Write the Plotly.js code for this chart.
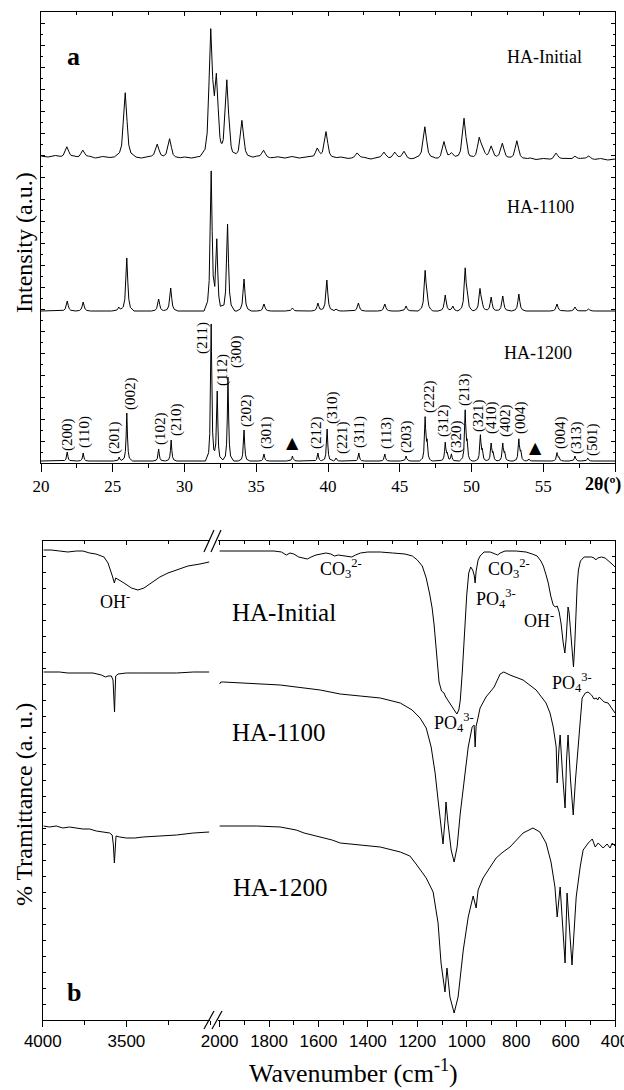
<!DOCTYPE html>
<html><head><meta charset="utf-8">
<script src="https://cdn.plot.ly/plotly-3.0.1.min.js"></script>
<style>html,body{margin:0;padding:0;background:#fff}#chart{width:624px;height:1090px}</style>
</head><body><div id="chart"></div>
<script>
// ---------- DATA: XRD (panel a) ----------
// peaks: [2theta (deg), height above own baseline (a.u.)]
const xrdInitialPeaks = [[21.8,10],[22.91,7],[25.87,64],[28.1,13],[28.96,19],[31.83,123],[32.22,75],[32.95,77],[34.0,37],[35.51,7],[39.25,9],[39.86,26],[42.03,5],[43.9,6],[44.65,6],[45.3,7],[46.75,31],[48.08,17],[48.6,5],[49.48,40],[50.54,20],[50.8,7],[51.37,12],[52.15,15],[53.16,18],[55.89,6],[57.2,3],[58.17,3]];
const xrdInitialBaseline = [[20,2],[20.5,1],[21,2.5],[21.4,1],[22.3,1.5],[22.6,0.5],[23.4,1.5],[23.8,0],[24.3,1.5],[24.8,0.5],[25.3,1.5],[26.6,1],[27,0],[27.5,1.5],[28.5,0.5],[29.6,0],[30,1],[30.5,0],[31,1.5],[34.6,0.5],[35,1.5],[36,0],[36.5,1.2],[37,0],[37.5,1.5],[38,0],[38.5,1],[39,0.5],[40.4,0],[40.9,1],[41.4,-0.5],[42.5,0.5],[43,-1],[43.4,0.5],[44.2,-0.5],[45,0],[45.8,-1],[46.2,0.5],[47.3,0],[47.7,-1],[48.9,0],[50,-0.5],[51.8,0],[53.7,-1],[54.1,0],[54.5,-1.5],[55,-0.5],[55.5,-1.5],[56.5,-0.5],[57,-1.5],[57.7,-0.5],[58.6,-1.5],[59,-0.5],[59.5,-2],[60,-1]];
const xrd1100Peaks = [[21.83,10],[22.94,9],[25.42,4],[25.98,53],[28.2,12],[29.04,23],[31.86,138],[32.25,68],[33.0,87],[34.15,32],[35.54,7],[37.52,3],[39.3,8],[39.92,31],[40.56,2],[42.12,8],[43.96,7],[45.44,5],[46.77,38],[46.9,10],[48.17,16],[48.7,5],[49.56,41],[49.7,10],[50.59,21],[50.72,6],[51.37,14],[52.18,15],[53.3,17],[55.96,7],[57.21,4],[58.16,2]];
const xrd1100Baseline = [[20,0],[60,0]];
const xrd1200Peaks = [[21.83,9],[22.94,8],[25.45,4],[25.98,48],[28.2,12],[29.07,21],[31.86,137],[32.28,70],[33.03,84],[34.15,31],[35.54,7],[37.52,5],[39.3,8],[39.94,32],[40.56,3],[42.15,8],[43.96,7],[45.44,5],[46.77,42],[46.9,16],[48.17,18],[48.3,6],[48.6,7],[49.56,49],[49.69,15],[50.62,25],[50.75,9],[51.37,17],[51.5,7],[52.18,17],[52.31,7],[53.3,21],[53.43,8],[54.0,2],[55.96,8],[56.09,3],[57.21,5],[58.1,3]];
const xrd1200Baseline = [[20,0],[60,0]];
const xrdTickVals = [20,25,30,35,40,45,50,55,60];
const xrdTickText = ['20','25','30','35','40','45','50','55',''];

// Miller indices for HA-1200
const hklText = ['(200)','(110)','(201)','(002)','(102)','(210)','(211)','(112)','(300)','(202)','(301)','▲','(212)','(310)','(221)','(311)','(113)','(203)','(222)','(312)','(320)','(213)','(321)','(410)','(402)','(004)','▲','(004)','(313)','(501)'];

// ---------- DATA: FTIR (panel b) ---------- [wavenumber cm-1, transmittance a.u.]
const irInitialHigh = [[3995,470],[3950,470],[3900,469],[3850,468],[3800,469],[3760,469],[3720,467],[3682,466],[3634,463],[3610,457],[3586,445],[3576,438],[3572,437],[3564,442],[3540,440],[3514,437],[3470,432],[3431,430],[3395,432],[3347,438],[3300,443],[3251,447],[3190,451],[3132,454],[3060,456],[3005,458]];
const irInitialLow = [[2000,469],[1950,469],[1850,469],[1780,469],[1750,468],[1730,465],[1715,467],[1700,466],[1680,463],[1660,462],[1645,461],[1630,463],[1610,465],[1590,466],[1570,467],[1550,466],[1535,464],[1520,465],[1500,464],[1480,463],[1465,463],[1450,465],[1430,467],[1400,468],[1350,468],[1300,467],[1250,466],[1220,464],[1200,460],[1180,454],[1164,442],[1150,426],[1140,412],[1132,395],[1126,375],[1120,358],[1112,338],[1102,329],[1092,327],[1085,323],[1070,317],[1050,309],[1040,306],[1032,310],[1026,320],[1018,348],[1010,387],[1000,425],[992,447],[984,453],[976,450],[970,445],[966,437],[962,449],[954,460],[946,464],[930,468],[905,468],[885,466],[875,465],[865,467],[845,469],[800,469],[760,468],[735,466],[715,464],[700,459],[690,454],[680,446],[670,437],[660,424],[650,415],[642,413],[634,414],[626,408],[618,396],[610,378],[603,367],[598,380],[594,402],[590,413],[586,408],[581,390],[575,368],[568,353],[563,375],[558,408],[553,435],[548,450],[540,459],[525,463],[510,463],[495,463],[484,462],[478,460],[470,462],[455,463],[440,462],[425,459],[412,456],[400,453]];
const ir1100High = [[3995,348],[3950,348],[3900,348],[3850,347],[3800,347],[3700,347],[3650,345],[3625,343],[3610,344],[3590,344],[3580,340],[3575,325],[3571,308],[3568,325],[3564,344],[3550,346],[3500,347],[3400,347],[3300,347],[3200,347],[3100,348],[3005,348]];
const ir1100Low = [[2000,336],[1995,338],[1985,338],[1917,337],[1755,335],[1593,330],[1512,326],[1431,324],[1350,322],[1269,317],[1221,310],[1189,302],[1164,292],[1144,273],[1128,247],[1116,220],[1104,193],[1096,176],[1088,200],[1084,218],[1076,197],[1063,170],[1051,158],[1039,173],[1026,207],[1010,240],[994,273],[978,293],[970,295],[966,273],[962,294],[958,298],[946,312],[922,323],[889,333],[865,346],[850,348],[825,345],[772,340],[719,330],[679,317],[663,307],[650,293],[638,273],[634,237],[627,270],[622,285],[612,245],[602,212],[596,260],[590,285],[580,240],[569,205],[560,240],[549,273],[540,305],[533,322],[520,327],[509,328],[495,325],[485,321],[476,322],[470,320],[464,323],[444,318],[428,317],[415,312],[400,307]];
const ir1200High = [[3995,194],[3960,193],[3920,194],[3880,192],[3840,193],[3800,192],[3760,191],[3720,191],[3680,189],[3640,188],[3600,187],[3585,185],[3578,175],[3572,157],[3568,175],[3562,184],[3540,183],[3500,182],[3450,182],[3400,183],[3300,184],[3200,185],[3100,187],[3005,188]];
const ir1200Low = [[2000,194],[1850,194],[1755,193],[1690,190],[1658,187],[1625,185],[1593,183],[1545,180],[1512,177],[1431,175],[1350,173],[1269,168],[1230,164],[1205,156],[1164,142],[1136,128],[1116,97],[1104,57],[1088,28],[1080,52],[1068,23],[1051,7],[1035,23],[1014,70],[994,103],[974,124],[962,112],[954,130],[934,142],[905,153],[881,162],[853,168],[825,173],[772,187],[732,192],[704,188],[679,177],[659,158],[643,133],[634,103],[622,133],[602,57],[594,127],[574,55],[557,123],[541,153],[529,170],[508,177],[492,181],[480,173],[468,177],[448,172],[432,176],[420,172],[411,177],[400,174]];
const irHighTicks = [4000,3500];
const irLowTicks = [2000,1800,1600,1400,1200,1000,800,600,400];

// ---------- helpers ----------
const W = 624, H = 1090;
const PX = x => x / W, PY = y => 1 - y / H;
const SERIF = 'Liberation Serif, Times New Roman, serif';
const SANS = 'Liberation Sans, Arial, sans-serif';

function evalPwl(pts, x, clamp) {
  if (x <= pts[0][0]) return clamp ? pts[0][1] : 0;
  if (x >= pts[pts.length - 1][0]) return clamp ? pts[pts.length - 1][1] : 0;
  for (let i = 1; i < pts.length; i++) {
    if (x <= pts[i][0]) {
      const [x0, y0] = pts[i - 1], [x1, y1] = pts[i];
      return y0 + (y1 - y0) * (x - x0) / (x1 - x0);
    }
  }
  return 0;
}
// peak shape (style): [offset in deg, fraction of height]
const shapeInitial = [[-0.75,0],[-0.4,0.06],[-0.25,0.18],[-0.13,0.55],[0,1],[0.13,0.55],[0.25,0.18],[0.4,0.06],[0.75,0]];
const shape1100 = [[-0.5,0],[-0.25,0.07],[-0.14,0.22],[-0.07,0.55],[0,1],[0.07,0.55],[0.14,0.22],[0.25,0.07],[0.5,0]];
const shape1200 = [[-0.4,0],[-0.18,0.06],[-0.1,0.2],[-0.05,0.5],[0,1],[0.05,0.5],[0.1,0.2],[0.18,0.06],[0.4,0]];

function pattern(peaks, shape, baseline, offset) {
  const set = new Set([20, 60]);
  peaks.forEach(([p]) => shape.forEach(([dx]) => set.add(+(p + dx).toFixed(4))));
  baseline.forEach(([x]) => set.add(x));
  const X = [...set].filter(x => x >= 20 && x <= 60).sort((a, b) => a - b);
  const Y = X.map(x => {
    let y = offset + evalPwl(baseline, x, true);
    peaks.forEach(([p, h]) => { y += h * evalPwl(shape.map(([dx, f]) => [p + dx, f]), x, false); });
    return y;
  });
  return { X, Y };
}

const line = { color: '#000', width: 1 };
const traces = [];
[[xrdInitialPeaks, shapeInitial, xrdInitialBaseline, 305],
 [xrd1100Peaks, shape1100, xrd1100Baseline, 152],
 [xrd1200Peaks, shape1200, xrd1200Baseline, 2]].forEach(([pk, sh, bl, off]) => {
  const p = pattern(pk, sh, bl, off);
  traces.push({ x: p.X, y: p.Y, mode: 'lines', line, xaxis: 'x', yaxis: 'y', hoverinfo: 'skip' });
});
[irInitialHigh, ir1100High, ir1200High].forEach(d => traces.push({
  x: d.map(v => v[0]), y: d.map(v => v[1]), mode: 'lines', line, xaxis: 'x2', yaxis: 'y2', hoverinfo: 'skip' }));
[irInitialLow, ir1100Low, ir1200Low].forEach(d => traces.push({
  x: d.map(v => v[0]), y: d.map(v => v[1]), mode: 'lines', line, xaxis: 'x3', yaxis: 'y3', hoverinfo: 'skip' }));
// empty traces to register the top (overlay) axes
traces.push({ x: [], y: [], xaxis: 'x4', yaxis: 'y', hoverinfo: 'skip' });
traces.push({ x: [], y: [], xaxis: 'x5', yaxis: 'y2', hoverinfo: 'skip' });
traces.push({ x: [], y: [], xaxis: 'x6', yaxis: 'y3', hoverinfo: 'skip' });

// ---------- layout ----------
const axBase = { showline: true, linecolor: '#000', linewidth: 1, tickcolor: '#000', tickwidth: 1,
  showgrid: false, zeroline: false, fixedrange: true };
const serifTick = { family: SERIF, size: 17, color: '#000' };
const sansTick = { family: SANS, size: 17, color: '#000' };

// HKL label placement (layout): [2theta, a.u.]
const hklPlace = [[21.81,29],[23.0,31],[25.09,25],[26.2,70],[28.29,35],[29.41,43],[31.22,125],[32.61,93],[33.59,111],[34.29,52],[35.68,30],[37.56,21],[39.16,31],[40.28,55],[40.98,25],[42.16,31],[44.04,30],[45.44,26],[47.04,66],[48.01,43],[48.92,26],[49.48,73],[50.45,48],[51.36,45],[52.33,43],[53.38,45],[54.43,16],[56.17,30],[57.28,26],[58.4,23]];

const ann = [];
hklText.forEach((t, i) => {
  const tri = t === '▲';
  ann.push({ x: hklPlace[i][0], y: hklPlace[i][1], xref: 'x', yref: 'y', text: t, showarrow: false,
    textangle: tri ? 0 : -90, font: { family: tri ? 'DejaVu Sans' : SERIF, size: tri ? 16 : 15, color: '#000' },
    xanchor: 'center', yanchor: 'middle' });
});
function txt(x, y, text, size, opts) {
  ann.push(Object.assign({ x: PX(x), y: PY(y), xref: 'paper', yref: 'paper', text, showarrow: false,
    font: { family: SERIF, size, color: '#000' }, xanchor: 'center', yanchor: 'middle' }, opts || {}));
}
// panel a texts
txt(73, 57, '<b>a</b>', 26);
txt(544, 57, 'HA-Initial', 18);
txt(540, 207, 'HA-1100', 18);
txt(538, 353, 'HA-1200', 18);
txt(603, 484, '<b>2θ(º)</b>', 18);
txt(24, 243, 'Intensity (a.u.)', 24, { textangle: -90 });
// panel b texts
txt(74, 992, '<b>b</b>', 26);
txt(115, 600, 'OH<sup>-</sup>', 18);
txt(284, 612, 'HA-Initial', 25);
txt(318, 568, 'CO<sub>3</sub><sup>2-</sup>', 18, { xanchor: 'left' });
txt(486, 568, 'CO<sub>3</sub><sup>2-</sup>', 18, { xanchor: 'left' });
txt(474, 598, 'PO<sub>4</sub><sup>3-</sup>', 18, { xanchor: 'left' });
txt(522, 619, 'OH<sup>-</sup>', 18, { xanchor: 'left' });
txt(550, 682, 'PO<sub>4</sub><sup>3-</sup>', 18, { xanchor: 'left' });
txt(279, 732, 'HA-1100', 25);
txt(432, 722, 'PO<sub>4</sub><sup>3-</sup>', 18, { xanchor: 'left' });
txt(280, 887, 'HA-1200', 25);
txt(353, 1090, 'Wavenumber (cm<sup>-1</sup>)', 26, { yanchor: 'bottom' });
txt(24, 805, '% Tramittance (a. u.)', 24, { textangle: -90 });

// axis-break marks
const shapes = [];
[[204, 552, 214, 530], [211, 552, 221, 530], [204, 1029, 214, 1011], [212, 1029, 222, 1011]].forEach(([x0, y0, x1, y1]) =>
  shapes.push({ type: 'line', xref: 'paper', yref: 'paper', x0: PX(x0), y0: PY(y0), x1: PX(x1), y1: PY(y1), line: { color: '#000', width: 1.2 } }));

const layout = {
  width: W, height: H, margin: { l: 0, r: 0, t: 0, b: 0 }, showlegend: false,
  paper_bgcolor: '#fff', plot_bgcolor: '#fff', annotations: ann, shapes,
  xaxis: Object.assign({}, axBase, { domain: [PX(41), PX(615)], range: [20, 60], anchor: 'y', ticks: 'outside', ticklen: 8,
    tickmode: 'array', tickvals: xrdTickVals, ticktext: xrdTickText, tickfont: serifTick,
    minor: { tickmode: 'linear', tick0: 20, dtick: 2.5, ticks: 'outside', ticklen: 4, tickcolor: '#000' } }),
  xaxis4: Object.assign({}, axBase, { overlaying: 'x', side: 'top', anchor: 'y', range: [20, 60], ticks: 'inside', ticklen: 4,
    tickmode: 'array', tickvals: xrdTickVals, showticklabels: false,
    minor: { tickmode: 'linear', tick0: 20, dtick: 2.5, ticks: 'inside', ticklen: 3, tickcolor: '#000' } }),
  yaxis: Object.assign({}, axBase, { domain: [PY(463), PY(12)], range: [0, 451], anchor: 'x', mirror: 'ticks', ticks: 'inside',
    ticklen: 4, tickmode: 'linear', tick0: 0, dtick: 22, showticklabels: false,
    minor: { tickmode: 'linear', tick0: 11, dtick: 22, ticks: 'inside', ticklen: 2, tickcolor: '#000' } }),
  xaxis2: Object.assign({}, axBase, { domain: [PX(42.8), PX(210)], range: [4000, 3000], anchor: 'y2', ticks: 'outside', ticklen: 6,
    tickmode: 'array', tickvals: irHighTicks, tickfont: sansTick,
    minor: { tickmode: 'linear', tick0: 4000, dtick: 250, ticks: 'outside', ticklen: 4, tickcolor: '#000' } }),
  xaxis5: Object.assign({}, axBase, { overlaying: 'x2', side: 'top', anchor: 'y2', range: [4000, 3000], ticks: 'inside', ticklen: 4,
    tickmode: 'array', tickvals: irHighTicks, showticklabels: false,
    minor: { tickmode: 'linear', tick0: 4000, dtick: 250, ticks: 'inside', ticklen: 3, tickcolor: '#000' } }),
  xaxis3: Object.assign({}, axBase, { domain: [PX(218.4), PX(615)], range: [2005, 400], anchor: 'y3', ticks: 'outside', ticklen: 6,
    tickmode: 'array', tickvals: irLowTicks, tickfont: sansTick, ticklabeloverflow: 'allow',
    minor: { tickmode: 'linear', tick0: 0, dtick: 100, ticks: 'outside', ticklen: 4, tickcolor: '#000' } }),
  xaxis6: Object.assign({}, axBase, { overlaying: 'x3', side: 'top', anchor: 'y3', range: [2005, 400], ticks: 'inside', ticklen: 4,
    tickmode: 'array', tickvals: irLowTicks, showticklabels: false,
    minor: { tickmode: 'linear', tick0: 0, dtick: 100, ticks: 'inside', ticklen: 3, tickcolor: '#000' } }),
  yaxis2: Object.assign({}, axBase, { domain: [PY(1020), PY(541)], range: [0, 479], anchor: 'x2', side: 'left', ticks: 'inside',
    ticklen: 3, tickmode: 'linear', tick0: 0, dtick: 16, showticklabels: false }),
  yaxis3: Object.assign({}, axBase, { domain: [PY(1020), PY(541)], range: [0, 479], anchor: 'x3', side: 'right', ticks: 'inside',
    ticklen: 3, tickmode: 'linear', tick0: 0, dtick: 16, showticklabels: false })
};

Plotly.newPlot('chart', traces, layout, { staticPlot: true, displayModeBar: false });
</script></body></html>
